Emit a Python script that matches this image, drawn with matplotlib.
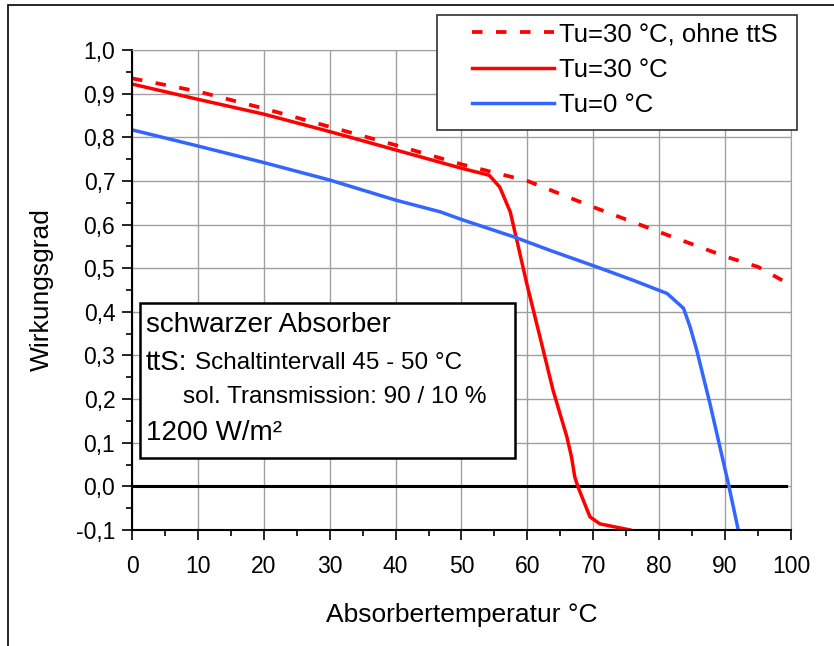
import numpy as np
import matplotlib.pyplot as plt
from matplotlib.patches import Rectangle
from matplotlib.ticker import MultipleLocator, FuncFormatter

plt.rcParams['font.family'] = ['Liberation Sans', 'DejaVu Sans']

# Tu=30 °C, ohne ttS (dashed)
x_ohne = [0, 10, 20, 30, 40, 50, 60, 70, 80, 90, 95, 100]
y_ohne = [0.935, 0.905, 0.866, 0.824, 0.782, 0.738, 0.700, 0.640, 0.583, 0.527, 0.503, 0.461]

# Tu=30 °C
x_30 = [0, 10, 20, 30, 40, 50, 54.2, 55.8, 57.4, 58.4, 59.9, 61.9, 63.9, 66.0, 66.7,
        67.2, 67.7, 68.7, 69.5, 71.0, 75.6]
y_30 = [0.922, 0.887, 0.853, 0.813, 0.771, 0.729, 0.713, 0.686, 0.629, 0.564, 0.465,
        0.343, 0.220, 0.113, 0.067, 0.021, -0.002, -0.040, -0.070, -0.086, -0.100]

# Tu=0 °C
x_0 = [0, 10, 20, 30, 40, 46.8, 50.3, 57.9, 63.4, 70.5, 76.1, 81.2, 83.7, 84.7, 85.7,
       87.7, 90.5, 92.0]
y_0 = [0.817, 0.780, 0.742, 0.702, 0.656, 0.629, 0.610, 0.572, 0.541, 0.503, 0.472,
       0.442, 0.408, 0.365, 0.312, 0.190, 0.006, -0.100]

fig = plt.figure(figsize=(8.34, 6.46), dpi=100)
ax = fig.add_axes([0.1583, 0.1796, 0.7901, 0.743])

# outer frame of the original chart object
fig.patches.append(Rectangle((8 / 834, -0.1), 1.2, 1.1 - 5 / 646, transform=fig.transFigure,
                             fill=False, edgecolor='black', linewidth=1.2))

ax.plot(x_ohne, y_ohne, color='#ff0000', lw=2.7, dashes=(2.8, 3.6), label='Tu=30 °C, ohne ttS')
ax.plot(x_30, y_30, color='#ff0000', lw=2.5, label='Tu=30 °C')
ax.plot(x_0, y_0, color='#3366ff', lw=2.5, label='Tu=0 °C')
ax.plot([0, 99.3], [0, 0], color='black', lw=2.2, zorder=1.5)

ax.set_xlim(0, 100)
ax.set_ylim(-0.1, 1.0)
ax.xaxis.set_major_locator(MultipleLocator(10))
ax.xaxis.set_minor_locator(MultipleLocator(5))
ax.yaxis.set_major_locator(MultipleLocator(0.1))
ax.yaxis.set_minor_locator(MultipleLocator(0.05))
ax.yaxis.set_major_formatter(FuncFormatter(lambda v, p: f'{v:.1f}'.replace('.', ',').replace('-0,0', '0,0')))
ax.grid(True, which='major', color='#a0a0a0', lw=1)
ax.set_axisbelow(True)
for s in ['top', 'right']:
    ax.spines[s].set_color('#a0a0a0')
for s in ['left', 'bottom']:
    ax.spines[s].set_linewidth(1.5)
ax.tick_params(which='major', direction='out', length=7, width=1.2, labelsize=16.5, pad=5)
ax.tick_params(which='minor', direction='out', length=4, width=1.2)
ax.tick_params(axis='x', pad=11)

ax.set_xlabel('Absorbertemperatur °C', fontsize=19, labelpad=18)
ax.set_ylabel('Wirkungsgrad', fontsize=19, labelpad=16)

# legend frame drawn separately to match the wide left padding
ax.add_patch(Rectangle((0.463, 0.833), 0.546, 0.240, transform=ax.transAxes, clip_on=False,
                       facecolor='white', edgecolor='#303030', lw=1.2, zorder=5))
leg = ax.legend(loc='upper left', bbox_to_anchor=(0.516, 1.058), fontsize=18.5,
                frameon=False, handlelength=3.2, handletextpad=0.2,
                borderpad=0, labelspacing=0.45, borderaxespad=0)
leg.set_zorder(6)

# annotation box
ax.add_patch(Rectangle((1.2, 0.064), 56.9, 0.356, facecolor='white', edgecolor='black',
                       lw=1.8, zorder=3))
ax.text(2.1, 0.369, 'schwarzer Absorber', fontsize=20, va='center', zorder=4)
ax.text(2.1, 0.282, 'ttS:', fontsize=20, va='center', zorder=4)
ax.text(9.5, 0.282, 'Schaltintervall 45 - 50 °C', fontsize=17.5, va='center', zorder=4)
ax.text(7.7, 0.204, 'sol. Transmission: 90 / 10 %', fontsize=17.5, va='center', zorder=4)
ax.text(2.1, 0.122, '1200 W/m²', fontsize=20, va='center', zorder=4)

fig.savefig('out.png', dpi=100)
